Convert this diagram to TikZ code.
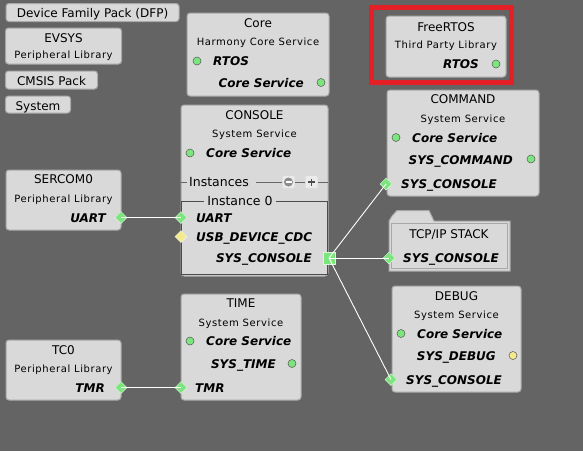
\documentclass[tikz,border=0pt]{standalone}
\usepackage{fontspec}
\setmainfont{DejaVu Sans}
\usetikzlibrary{shapes.geometric}
\definecolor{bg}{HTML}{646464}
\definecolor{boxfill}{HTML}{D9D9D9}
\definecolor{boxline}{HTML}{A8A8A8}
\definecolor{pgreen}{HTML}{7DE57D}
\definecolor{pyellow}{HTML}{F3E98E}
\definecolor{redframe}{HTML}{E41F26}
\definecolor{portline}{HTML}{555555}
\begin{document}
\begin{tikzpicture}[x=1pt,y=-1pt,
  comp/.style={draw=boxline, fill=boxfill, rounded corners=3pt, line width=1pt, anchor=north west, inner sep=0pt, outer sep=0pt},
  ttl/.style={font=\fontsize{12}{14}\selectfont, anchor=base, inner sep=0pt},
  sub/.style={font=\fontsize{10}{12}\selectfont\addfontfeature{LetterSpace=6}, anchor=base, inner sep=0pt},
  lbl/.style={font=\fontsize{12}{14}\selectfont\bfseries\itshape, inner sep=0pt},
  lw/.style={lbl, anchor=base west},
  le/.style={lbl, anchor=base east},
  gc/.style={circle, fill=pgreen, draw=portline, line width=0.5pt, minimum size=8pt, inner sep=0pt},
  yc/.style={circle, fill=pyellow, draw=portline, line width=0.5pt, minimum size=8pt, inner sep=0pt},
  gd/.style={diamond, fill=pgreen, draw=white!70!pgreen, line width=0.5pt, minimum size=12pt, inner sep=0pt},
  yd/.style={diamond, fill=pyellow, draw=white!70!pyellow, line width=0.5pt, minimum size=12pt, inner sep=0pt},
  gs/.style={rectangle, fill=pgreen, draw=white!70!pgreen, line width=0.5pt, minimum size=12pt, inner sep=0pt},
  wire/.style={draw=white, line width=0.9pt},
  btn/.style={rectangle, rounded corners=1pt, fill=white!92!black, minimum size=12pt, inner sep=0pt}
]
\useasboundingbox (0,0) rectangle (583,451);
\fill[bg] (0,0) rectangle (583,451);

% left small boxes
\node[comp, minimum width=173pt, minimum height=18pt] (dfp) at (6,3.5) {};
\node[ttl] (dfpt) at (92.5,17) {Device Family Pack (DFP)};
\node[comp, minimum width=116pt, minimum height=36pt] (evsys) at (5.5,28) {};
\node[ttl] (evsyst) at (63.5,42) {EVSYS};
\node[sub] (evsyss) at (63.5,58.5) {Peripheral Library};
\node[comp, minimum width=92pt, minimum height=18pt] (cmsis) at (5.5,71) {};
\node[ttl] (cmsist) at (51.5,85) {CMSIS Pack};
\node[comp, minimum width=65pt, minimum height=17pt] (system) at (5.5,96) {};
\node[ttl] (systemt) at (38,110) {System};

% Core
\node[comp, minimum width=142pt, minimum height=83pt] (core) at (187,13) {};
\node[ttl] (coret) at (258,27) {Core};
\node[sub] (cores) at (258,45.5) {Harmony Core Service};
\node[gc] (corertos) at (197,61) {};
\node[lw] (corertosl) at (213,65) {RTOS};
\node[gc] (corecs) at (321,82.5) {};
\node[le] (corecsl) at (304,87) {Core Service};

% FreeRTOS
\draw[redframe, line width=5pt] (371.5,7.5) rectangle (511.5,82.5);
\node[comp, minimum width=120pt, minimum height=61pt] (freertos) at (386,16) {};
\node[ttl] (freertost) at (446,31) {FreeRTOS};
\node[sub] (freertoss) at (446,48) {Third Party Library};
\node[gc] (frtos) at (496,64) {};
\node[le] (frtosl) at (479,68) {RTOS};

% CONSOLE
\node[comp, minimum width=147pt, minimum height=171pt] (console) at (181,105) {};
\node[ttl] (consolet) at (254.5,119) {CONSOLE};
\node[sub] (consoles) at (254.5,137) {System Service};
\node[gc] (concs) at (190,153) {};
\node[lw] (concsl) at (206,157) {Core Service};
\draw[draw=portline!90, line width=0.8pt] (181,182) -- (187,182) (256,182) -- (282,182) (295,182) -- (305,182) (318,182) -- (328,182);
\node[font=\fontsize{12.5}{14}\selectfont, anchor=base west, inner sep=0pt] (inst) at (189,186) {Instances};
\node[btn] (minus) at (288.5,182) {};
\fill[black!45] (minus) circle (4.5pt);
\draw[white, line width=1.2pt] ([xshift=-3pt]minus.center) -- ([xshift=3pt]minus.center);
\node[btn] (plus) at (311.5,182) {};
\draw[black!70, line width=1.2pt] ([xshift=-3.5pt]plus.center) -- ([xshift=3.5pt]plus.center) ([yshift=-3.5pt]plus.center) -- ([yshift=3.5pt]plus.center);
\node[draw=black!70, line width=0.8pt, anchor=north west, minimum width=146pt, minimum height=73pt, inner sep=0pt] (inst0) at (181,201) {};
\node[fill=boxfill, font=\fontsize{12.5}{14}\selectfont, inner xsep=3pt, inner ysep=1pt, anchor=base] (inst0l) at (240,205) {Instance 0};
\node[gd] (conuart) at (181,217.5) {};
\node[lw] (conuartl) at (196,222) {UART};
\node[yd] (conusb) at (181,236.5) {};
\node[lw] (conusbl) at (196,241) {USB\_DEVICE\_CDC};
\node[gs] (consys) at (329,258) {};
\node[le] (consysl) at (312,262) {SYS\_CONSOLE};

% COMMAND
\node[comp, minimum width=152pt, minimum height=106pt] (command) at (387,90) {};
\node[ttl] (commandt) at (463,103) {COMMAND};
\node[sub] (commands) at (463,122) {System Service};
\node[gc] (cmdcs) at (396,137.5) {};
\node[lw] (cmdcsl) at (412,142) {Core Service};
\node[gc] (cmdsc) at (531,159) {};
\node[le] (cmdscl) at (513,164) {SYS\_COMMAND};
\node[gd] (cmdcon) at (386,184) {};
\node[lw] (cmdconl) at (401,188) {SYS\_CONSOLE};

% TCP/IP STACK (folder)
\filldraw[fill=boxfill, draw=boxline, line width=1pt] (389,271) -- (389,221) -- (392,216) -- (397,210.5) -- (429,210.5) -- (434,221) -- (510,221) -- (510,271) -- cycle;
\draw[boxline, line width=0.8pt] (391.5,223.5) rectangle (507.5,268.5);
\node[inner sep=0pt, minimum width=121pt, minimum height=50pt, anchor=north west] (tcp) at (389,221) {};
\node[ttl] (tcpt) at (449,238) {TCP/IP STACK};
\node[gd] (tcpcon) at (389,258) {};
\node[lw] (tcpconl) at (403,262) {SYS\_CONSOLE};

% DEBUG
\node[comp, minimum width=129pt, minimum height=106pt] (debug) at (392,286) {};
\node[ttl] (debugt) at (456.5,300) {DEBUG};
\node[sub] (debugs) at (456.5,318) {System Service};
\node[gc] (dbgcs) at (401,333.5) {};
\node[lw] (dbgcsl) at (417,338) {Core Service};
\node[yc] (dbgsd) at (513,355.5) {};
\node[le] (dbgsdl) at (496,360) {SYS\_DEBUG};
\node[gd] (dbgcon) at (391,379.5) {};
\node[lw] (dbgconl) at (406,384) {SYS\_CONSOLE};

% SERCOM0
\node[comp, minimum width=115pt, minimum height=60pt] (sercom) at (6,170) {};
\node[ttl] (sercomt) at (63.5,183) {SERCOM0};
\node[sub] (sercoms) at (63.5,202) {Peripheral Library};
\node[gd] (seruart) at (121,217.5) {};
\node[le] (seruartl) at (106,222) {UART};

% TC0
\node[comp, minimum width=115pt, minimum height=60pt] (tc0) at (6,340) {};
\node[ttl] (tc0t) at (63.5,354) {TC0};
\node[sub] (tc0s) at (63.5,372) {Peripheral Library};
\node[gd] (tcmr) at (121,387.5) {};
\node[le] (tcmrl) at (105,392) {TMR};

% TIME
\node[comp, minimum width=120pt, minimum height=106pt] (time) at (181,294) {};
\node[ttl] (timet) at (241,307) {TIME};
\node[sub] (times) at (241,326) {System Service};
\node[gc] (timecs) at (190,341) {};
\node[lw] (timecsl) at (206,345) {Core Service};
\node[gc] (timest) at (292,363.5) {};
\node[le] (timestl) at (276,368) {SYS\_TIME};
\node[gd] (timetmr) at (181,387.5) {};
\node[lw] (timetmrl) at (195,392) {TMR};

% connectors
\draw[wire] (seruart.center) -- (conuart.center);
\draw[wire] (tcmr.center) -- (timetmr.center);
\draw[wire] (consys.center) -- (cmdcon.center);
\draw[wire] (consys.center) -- (tcpcon.center);
\draw[wire] (consys.center) -- (dbgcon.center);
\end{tikzpicture}
\end{document}
